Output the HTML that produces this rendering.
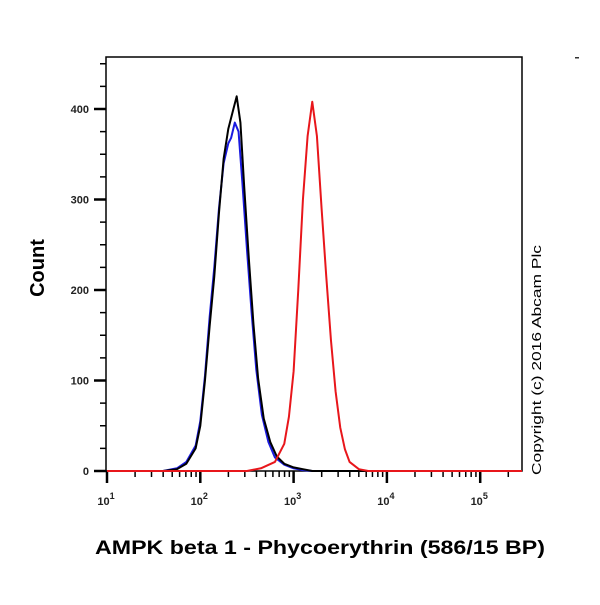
<!DOCTYPE html>
<html><head><meta charset="utf-8"><style>
body{margin:0;background:#fff;width:600px;height:600px;overflow:hidden}
text{font-family:"Liberation Sans",sans-serif}
</style></head><body>
<svg width="600" height="600">
<g id="axes"></g>
<g id="series"></g>
<text x="44" y="268" transform="rotate(-90 44 268)" text-anchor="middle" font-size="20" font-weight="bold">Count</text>
<text x="95" y="554" font-size="19" font-weight="bold" textLength="450" lengthAdjust="spacingAndGlyphs">AMPK beta 1 - Phycoerythrin (586/15 BP)</text>
<text x="541" y="475" transform="rotate(-90 541 475)" font-size="13" textLength="230" lengthAdjust="spacingAndGlyphs">Copyright (c) 2016 Abcam Plc</text>
<rect x="575" y="57" width="4" height="1.5" fill="#333"/>
</svg>
<script>
const yTicks=[0,100,200,300,400];
const xDecades=[1,2,3,4,5];
const blackX=[1.6,1.75,1.85,1.95,2.0,2.05,2.1,2.15,2.2,2.25,2.3,2.35,2.39,2.43,2.47,2.52,2.57,2.62,2.68,2.75,2.82,2.9,3.0,3.1,3.2];
const blackY=[0,2,8,25,50,100,160,215,285,345,378,398,414,385,315,235,162,102,58,32,16,8,4,2,0];
const blueX=[1.6,1.75,1.85,1.95,2.0,2.05,2.1,2.15,2.2,2.25,2.3,2.33,2.37,2.41,2.45,2.5,2.55,2.6,2.66,2.73,2.8,2.9,3.0,3.1,3.2];
const blueY=[0,3,10,28,55,105,170,225,290,340,362,368,385,375,320,245,175,112,62,32,15,7,3,1,0];
const redX=[2.5,2.65,2.8,2.9,2.95,3.0,3.05,3.1,3.15,3.2,3.25,3.3,3.35,3.4,3.45,3.5,3.55,3.6,3.7,3.8];
const redY=[0,3,10,30,60,110,200,300,370,408,370,290,215,145,88,48,24,10,2,0];
const ns='http://www.w3.org/2000/svg';
const L=106,R=522,T=57,B=471;
const xs=v=>107+(v-1)*93.3;
const ys=v=>B-v*0.905;
const ax=document.getElementById('axes'),se=document.getElementById('series');
function mk(tag,at,p){const e=document.createElementNS(ns,tag);for(const k in at)e.setAttribute(k,at[k]);p.appendChild(e);return e;}
const box=mk('rect',{x:L,y:T,width:R-L,height:B-T,fill:'none',stroke:'#000','stroke-width':1.5},ax);


for(let v=0;v<=450;v+=25){const maj=v%100===0;const t=mk('line',{x1:maj?94:100,x2:L,y1:ys(v),y2:ys(v),stroke:'#000','stroke-width':maj?2.5:1.5},ax);

}
yTicks.forEach(v=>{const t=mk('text',{x:89,y:ys(v)+4,'text-anchor':'end','font-size':11,'font-weight':'bold',fill:'#222'},ax);t.textContent=v;

});
for(let d=1;d<=5;d++){for(let m=1;m<=9;m++){const lv=d+Math.log10(m);const x=xs(lv);if(x>R)break;const t=mk('line',{x1:x,x2:x,y1:B,y2:m===1?483:477,stroke:'#000','stroke-width':m===1?2.5:1.5},ax);

}}
xDecades.forEach(d=>{const t=mk('text',{x:xs(d)-1,y:505,'text-anchor':'middle','font-size':11,'font-weight':'bold',fill:'#222'},ax);t.innerHTML='10<tspan dy="-6" font-size="9">'+d+'</tspan>';

});
function draw(X,Y,col,name){let pts=[[xs(1),ys(0)]];X.forEach((x,i)=>pts.push([xs(x),ys(Y[i])]));pts.push([R,ys(0)]);
const p=mk('polyline',{points:pts.map(p=>p.join(',')).join(' '),fill:'none',stroke:col,'stroke-width':2,'stroke-linejoin':'round'},se);

}
draw(blueX,blueY,'#1a1adf','series-blue');
draw(blackX,blackY,'#000','series-black');
draw(redX,redY,'#e8161b','series-red');
</script>
</body></html>
